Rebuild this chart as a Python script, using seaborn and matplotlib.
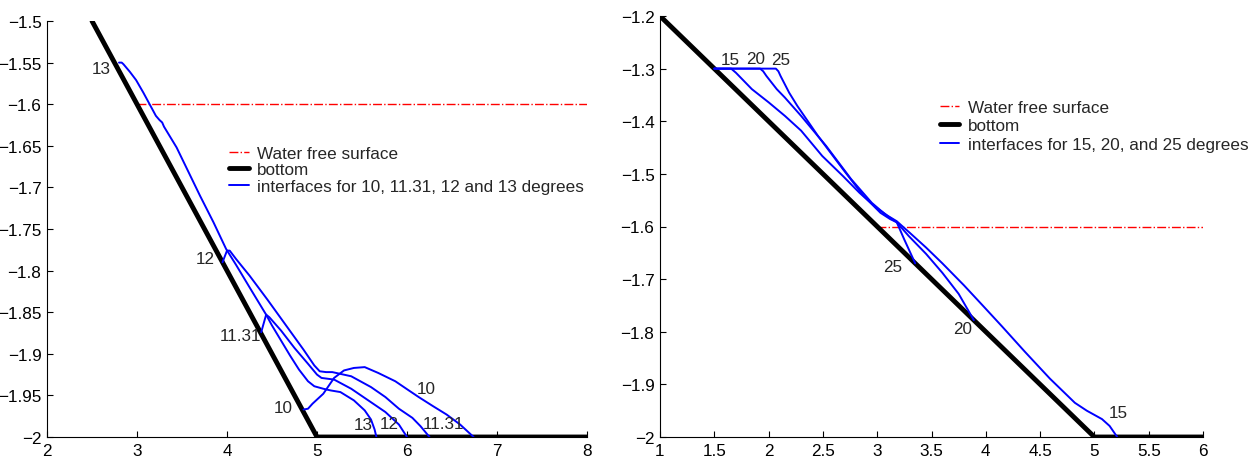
import matplotlib
matplotlib.use('Agg')
import matplotlib.pyplot as plt
import seaborn as sns
from matplotlib.ticker import FuncFormatter, MultipleLocator

sns.set_style('ticks')
plt.rcParams['font.family'] = ['Liberation Sans', 'DejaVu Sans']
plt.rcParams['font.size'] = 12.3

# ---- left panel data ----
bottom_l_x = [2.5, 5.0, 8.0]
bottom_l_y = [-1.5, -2.0, -2.0]
water_l_x = [3.0, 8.0]
water_l_y = [-1.6, -1.6]

i13_x = [2.80, 2.83, 2.85, 2.92, 2.99, 3.07, 3.14, 3.18, 3.21, 3.25, 3.28, 3.30, 3.44, 3.57,
         3.70, 3.85, 3.99, 4.10, 4.25, 4.435, 4.50, 4.60, 4.70, 4.80, 4.90, 4.97, 5.07, 5.15,
         5.26, 5.41, 5.53, 5.60, 5.64, 5.66]
i13_y = [-1.550, -1.550, -1.552, -1.561, -1.571, -1.586, -1.600, -1.608, -1.614, -1.619, -1.622,
         -1.627, -1.652, -1.681, -1.710, -1.742, -1.774, -1.793, -1.820, -1.853, -1.866, -1.884,
         -1.902, -1.919, -1.933, -1.939, -1.942, -1.944, -1.946, -1.956, -1.968, -1.979, -1.991,
         -2.000]

i12_x = [3.95, 4.00, 4.03, 4.10, 4.25, 4.45, 4.65, 4.85, 4.97, 5.03, 5.10, 5.17, 5.38, 5.60,
         5.76, 5.91, 6.06, 6.15, 6.25]
i12_y = [-1.790, -1.776, -1.776, -1.786, -1.806, -1.835, -1.865, -1.895, -1.914, -1.921, -1.922,
         -1.922, -1.927, -1.940, -1.952, -1.966, -1.977, -1.987, -2.000]

i1131_x = [4.38, 4.435, 4.47, 4.60, 4.75, 4.90, 5.00, 5.05, 5.19, 5.38, 5.57, 5.76, 5.91, 6.00]
i1131_y = [-1.874, -1.853, -1.856, -1.872, -1.893, -1.912, -1.925, -1.929, -1.931, -1.942,
           -1.956, -1.970, -1.985, -2.000]

i10_x = [4.85, 4.90, 4.95, 5.07, 5.19, 5.30, 5.41, 5.53, 5.68, 5.87, 6.02, 6.13, 6.29, 6.44,
         6.59, 6.74]
i10_y = [-1.967, -1.966, -1.960, -1.948, -1.929, -1.920, -1.917, -1.916, -1.923, -1.933, -1.944,
         -1.952, -1.963, -1.973, -1.985, -2.000]

labels_l = ['13', '12', '11.31', '10', '13', '12', '11.31', '10']
labels_l_x = [2.60, 3.76, 4.15, 4.62, 5.51, 5.80, 6.41, 6.21]
labels_l_y = [-1.557, -1.786, -1.878, -1.964, -1.985, -1.984, -1.984, -1.942]

# ---- right panel data ----
bottom_r_x = [1.0, 5.0, 6.0]
bottom_r_y = [-1.2, -2.0, -2.0]
water_r_x = [3.0, 6.0]
water_r_y = [-1.6, -1.6]

i15_x = [1.50, 1.655, 1.70, 1.846, 2.00, 2.151, 2.30, 2.494, 2.684, 2.837, 2.99, 3.10, 3.18,
         3.30, 3.45, 3.60, 3.80, 3.98, 4.15, 4.36, 4.59, 4.82, 4.93, 5.07, 5.14, 5.21]
i15_y = [-1.300, -1.300, -1.308, -1.339, -1.364, -1.390, -1.418, -1.466, -1.504, -1.536, -1.564,
         -1.580, -1.590, -1.612, -1.640, -1.670, -1.712, -1.752, -1.790, -1.838, -1.889, -1.935,
         -1.950, -1.966, -1.979, -2.000]

i20_x = [1.50, 1.922, 1.95, 1.98, 2.075, 2.15, 2.30, 2.53, 2.76, 2.95, 3.08, 3.18, 3.29, 3.45,
         3.60, 3.75, 3.89]
i20_y = [-1.300, -1.300, -1.305, -1.314, -1.339, -1.355, -1.390, -1.447, -1.510, -1.555, -1.578,
         -1.592, -1.618, -1.652, -1.688, -1.728, -1.778]

i25_x = [1.50, 2.067, 2.09, 2.11, 2.19, 2.265, 2.455, 2.684, 2.875, 3.03, 3.12, 3.18, 3.25, 3.35]
i25_y = [-1.300, -1.300, -1.305, -1.314, -1.346, -1.371, -1.428, -1.491, -1.542, -1.574, -1.586,
         -1.592, -1.625, -1.670]

labels_r = ['15', '20', '25', '25', '20', '15']
labels_r_x = [1.65, 1.885, 2.115, 3.14, 3.79, 5.22]
labels_r_y = [-1.282, -1.281, -1.282, -1.676, -1.794, -1.954]

BLUE = '#0000ff'
RED = '#ff0000'

fig = plt.figure(figsize=(12.59, 4.6), dpi=100)
ax1 = fig.add_axes([47 / 1259, 1 - 438 / 460, 540 / 1259, 416 / 460])
ax2 = fig.add_axes([660 / 1259, 1 - 438 / 460, 543 / 1259, 421 / 460])


def line(ax, x, y, **kw):
    sns.lineplot(x=x, y=y, ax=ax, sort=False, estimator=None, **kw)


# left
line(ax1, water_l_x, water_l_y, color=RED, lw=1.0, linestyle='-.', label='Water free surface')
line(ax1, bottom_l_x, bottom_l_y, color='black', lw=3.5, label='bottom')
line(ax1, i13_x, i13_y, color=BLUE, lw=1.4, label='interfaces for 10, 11.31, 12 and 13 degrees')
for xs, ys in [(i12_x, i12_y), (i1131_x, i1131_y), (i10_x, i10_y)]:
    line(ax1, xs, ys, color=BLUE, lw=1.4)
for t, x, y in zip(labels_l, labels_l_x, labels_l_y):
    ax1.text(x, y, t, ha='center', va='center')
ax1.set_xlim(2, 8)
ax1.set_ylim(-2, -1.5)
ax1.xaxis.set_major_locator(MultipleLocator(1))
ax1.yaxis.set_major_locator(MultipleLocator(0.05))
ax1.legend(loc='center left', bbox_to_anchor=(0.337, 0.642), frameon=False, fontsize=12.3,
           handlelength=1.15, handletextpad=0.5, labelspacing=0.1, borderpad=0, borderaxespad=0)

# right
line(ax2, water_r_x, water_r_y, color=RED, lw=1.0, linestyle='-.', label='Water free surface')
line(ax2, bottom_r_x, bottom_r_y, color='black', lw=3.5, label='bottom')
line(ax2, i15_x, i15_y, color=BLUE, lw=1.4, label='interfaces for 15, 20, and 25 degrees')
for xs, ys in [(i20_x, i20_y), (i25_x, i25_y)]:
    line(ax2, xs, ys, color=BLUE, lw=1.4)
for t, x, y in zip(labels_r, labels_r_x, labels_r_y):
    ax2.text(x, y, t, ha='center', va='center')
ax2.set_xlim(1, 6)
ax2.set_ylim(-2, -1.2)
ax2.xaxis.set_major_locator(MultipleLocator(0.5))
ax2.yaxis.set_major_locator(MultipleLocator(0.1))
ax2.legend(loc='center left', bbox_to_anchor=(0.516, 0.739), frameon=False, fontsize=12.3,
           handlelength=1.1, handletextpad=0.5, labelspacing=0.2, borderpad=0, borderaxespad=0)

fmt = FuncFormatter(lambda v, p: ('%g' % round(v, 4)).replace('-', '\u2212'))
for ax in (ax1, ax2):
    ax.xaxis.set_major_formatter(fmt)
    ax.yaxis.set_major_formatter(fmt)
    ax.set_xlabel('')
    ax.set_ylabel('')
    ax.tick_params(direction='in', length=4, width=0.8, labelsize=12.3, pad=4, colors='black')
    for s in ('top', 'right'):
        ax.spines[s].set_visible(False)
    for s in ('left', 'bottom'):
        ax.spines[s].set_linewidth(0.8)
        ax.spines[s].set_color('black')
    ax.set_facecolor('white')

fig.savefig('out.png', dpi=100, facecolor='white')
